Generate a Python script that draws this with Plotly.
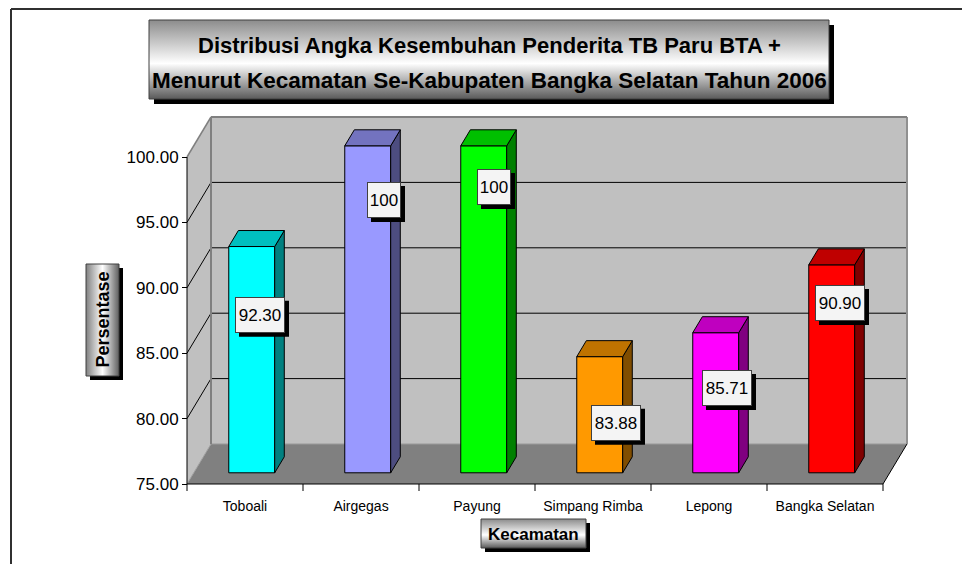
import plotly.graph_objects as go

# ---------------- data ----------------
categories = ["Toboali", "Airgegas", "Payung", "Simpang Rimba", "Lepong", "Bangka Selatan"]
values = [92.30, 100, 100, 83.88, 85.71, 90.90]
label_texts = ["92.30", "100", "100", "83.88", "85.71", "90.90"]
y_ticks = [75, 80, 85, 90, 95, 100]

title_line1 = "Distribusi Angka Kesembuhan Penderita TB Paru BTA +"
title_line2 = "Menurut Kecamatan Se-Kabupaten Bangka Selatan Tahun 2006"
y_title = "Persentase"
x_title = "Kecamatan"

# ---------------- style ----------------
front_colors = ["#00FFFF", "#9999FF", "#00FF00", "#FF9900", "#FF00FF", "#FF0000"]
side_colors = ["#008080", "#4D4D80", "#008000", "#804D00", "#800080", "#800000"]
top_colors = ["#00BFBF", "#7373BF", "#00BF00", "#BF7300", "#BF00BF", "#BF0000"]
label_shift = [(15, -57), (23, -43), (17, -30), (23, -55), (18, -44), (15, -27)]

FONT = "Liberation Sans, Arial, sans-serif"
W, H = 962, 564
PX0, PXC = 187, 116.0      # pixel of x=0, pixels per category
PY0, PYU = 484, 13.08      # pixel of y=75, pixels per value unit
YMIN, YMAX = y_ticks[0], y_ticks[-1]
DX, DY = 24 / PXC, 40 / PYU  # full depth offset in axis units
F0, FD = 0.28, 0.40          # bar front depth fraction, bar depth fraction
HALF = 0.198                 # half bar width (categories)
n = len(categories)

xr = [(0 - PX0) / PXC, (W - PX0) / PXC]
yr = [YMIN - (H - PY0) / PYU, YMIN + PY0 / PYU]

fig = go.Figure()

# ---------------- bars: front faces ----------------
centers = [i + 0.5 for i in range(n)]
fig.add_trace(go.Bar(
    x=[c + F0 * DX for c in centers],
    y=[v - YMIN for v in values],
    base=YMIN + F0 * DY,
    width=2 * HALF,
    marker=dict(color=front_colors, line=dict(color="black", width=1)),
    hoverinfo="skip",
))

# side and top faces
for i, (c, v) in enumerate(zip(centers, values)):
    xl = c + F0 * DX - HALF
    xrr = c + F0 * DX + HALF
    yb = YMIN + F0 * DY
    yt = v + F0 * DY
    ox, oy = FD * DX, FD * DY
    fig.add_trace(go.Scatter(
        x=[xrr, xrr + ox, xrr + ox, xrr, xrr],
        y=[yb, yb + oy, yt + oy, yt, yb],
        mode="lines", fill="toself", fillcolor=side_colors[i],
        line=dict(color="black", width=1), hoverinfo="skip"))
    fig.add_trace(go.Scatter(
        x=[xl, xrr, xrr + ox, xl + ox, xl],
        y=[yt, yt, yt + oy, yt + oy, yt],
        mode="lines", fill="toself", fillcolor=top_colors[i],
        line=dict(color="black", width=1), hoverinfo="skip"))

# ---------------- decorative boxes (pixel overlay axes) ----------------
def box_xy(x0, y0, x1, y1):
    return [x0, x1, x1, x0, x0], [H - y0, H - y0, H - y1, H - y1, H - y0]

def grad_box(x0, y0, x1, y1, kind, cs, shadow=5):
    sx, sy = box_xy(x0 + shadow, y0 + shadow, x1 + shadow, y1 + shadow)
    fig.add_trace(go.Scatter(x=sx, y=sy, mode="lines", fill="toself",
                             fillcolor="black", line=dict(width=0),
                             xaxis="x2", yaxis="y2", hoverinfo="skip"))
    bx, by = box_xy(x0, y0, x1, y1)
    fig.add_trace(go.Scatter(x=bx, y=by, mode="lines", fill="toself",
                             fillcolor="#DDDDDD",
                             fillgradient=dict(type=kind, colorscale=cs),
                             line=dict(color="#404040", width=1),
                             xaxis="x2", yaxis="y2", hoverinfo="skip"))

vert_cs = [[0, "#5A5A5A"], [0.45, "#FFFFFF"], [1, "#8C8C8C"]]
horz_cs = [[0, "#808080"], [0.5, "#FFFFFF"], [1, "#5F5F5F"]]
grad_box(149, 20, 829, 99, "vertical", vert_cs, 5)
grad_box(86, 264, 119, 376, "horizontal", horz_cs, 4)
grad_box(481, 519, 586, 548, "vertical", vert_cs, 4)

# ---------------- walls / floor / grid as shapes ----------------
shapes = []
def poly(pts, fill, lw=0, lc="rgba(0,0,0,0)"):
    path = "M " + " L ".join(f"{x},{y}" for x, y in pts) + " Z"
    shapes.append(dict(type="path", path=path, xref="x", yref="y",
                       fillcolor=fill, line=dict(width=lw, color=lc), layer="below"))

def seg(x0, y0, x1, y1, color, width=1):
    shapes.append(dict(type="line", x0=x0, y0=y0, x1=x1, y1=y1, xref="x", yref="y",
                       line=dict(color=color, width=width), layer="below"))

poly([(DX, YMIN + DY), (n + DX, YMIN + DY), (n + DX, YMAX + DY), (DX, YMAX + DY)], "#C0C0C0")
poly([(0, YMIN), (0, YMAX), (DX, YMAX + DY), (DX, YMIN + DY)], "#C0C0C0")
poly([(0, YMIN), (n, YMIN), (n + DX, YMIN + DY), (DX, YMIN + DY)], "#808080")
for v in y_ticks[1:-1]:
    seg(DX, v + DY, n + DX, v + DY, "black", 1)
    seg(0, v, DX, v + DY, "black", 1)
seg(DX, YMIN + DY, n + DX, YMIN + DY, "#999999", 1)
seg(0, YMIN, DX, YMIN + DY, "#A0A0A0", 1)
seg(DX, YMIN + DY, DX, YMAX + DY, "#808080", 2)
seg(n + DX, YMIN + DY, n + DX, YMAX + DY, "#909090", 2)
seg(DX, YMAX + DY, n + DX, YMAX + DY, "#808080", 2)
seg(0, YMAX, DX, YMAX + DY, "#808080", 1.5)
seg(n, YMIN, n + DX, YMIN + DY, "black", 1)
seg(0, YMIN, 0, YMAX, "black", 1)
seg(0, YMIN, n, YMIN, "black", 1)
for k in range(n + 1):
    shapes.append(dict(type="line", xref="x", yref="y", ysizemode="pixel", yanchor=YMIN,
                       x0=k, x1=k, y0=0, y1=-7, line=dict(color="black", width=1)))

# outer frame
shapes.append(dict(type="line", xref="paper", yref="paper", x0=11 / W, x1=11 / W,
                   y0=0, y1=(H - 9) / H, line=dict(color="#303030", width=2)))
shapes.append(dict(type="line", xref="paper", yref="paper", x0=11 / W, x1=1,
                   y0=(H - 9) / H, y1=(H - 9) / H, line=dict(color="#303030", width=2)))

# ---------------- data labels (box + drop shadow) ----------------
ann = []
for i, (c, v) in enumerate(zip(centers, values)):
    wdt = 46 if len(label_texts[i]) > 3 else 30
    hw, hh = wdt / 2 + 2, 18
    sx, sy = label_shift[i]
    shapes.append(dict(type="rect", xref="x", yref="y",
                       xsizemode="pixel", ysizemode="pixel", xanchor=c, yanchor=v,
                       x0=sx - hw + 4, x1=sx + hw + 4, y0=sy - hh - 4, y1=sy + hh - 4,
                       fillcolor="black", line=dict(width=0), layer="above"))
    ann.append(dict(
        x=c, y=v, xref="x", yref="y", text=label_texts[i], showarrow=False,
        xanchor="center", yanchor="middle", xshift=sx, yshift=sy,
        width=wdt, height=32, borderpad=1, borderwidth=1,
        bordercolor="#404040", bgcolor="#F4F4F4",
        font=dict(family=FONT, size=17, color="black")))

def pann(text, px, py, size, angle=0):
    ann.append(dict(x=px / W, y=(H - py) / H, xref="paper", yref="paper",
                    text=f"<b>{text}</b>", showarrow=False, textangle=angle,
                    xanchor="center", yanchor="middle",
                    font=dict(family=FONT, size=size, color="black")))

pann(title_line1, 489, 46, 22)
pann(title_line2, 489, 81, 22.5)
pann(y_title, 102.5, 320, 18, -90)
pann(x_title, 533.5, 534, 17)

fig.update_layout(
    width=W, height=H, autosize=False,
    margin=dict(l=0, r=0, t=0, b=0),
    paper_bgcolor="white", plot_bgcolor="rgba(0,0,0,0)",
    showlegend=False,
    shapes=shapes, annotations=ann,
    xaxis=dict(range=xr, domain=[0, 1], anchor="free", position=(H - PY0) / H,
               tickmode="array", tickvals=centers, ticktext=categories,
               ticks="", showgrid=False, zeroline=False, showline=False,
               ticklabelstandoff=12,
               tickfont=dict(family=FONT, size=14, color="black"), fixedrange=True),
    yaxis=dict(range=yr, domain=[0, 1], anchor="free", position=PX0 / W,
               tickmode="array", tickvals=y_ticks, tickformat=".2f",
               ticks="outside", ticklen=5, tickcolor="black",
               showgrid=False, zeroline=False, showline=False,
               tickfont=dict(family=FONT, size=17, color="black"), fixedrange=True),
    xaxis2=dict(overlaying="x", range=[0, W], visible=False, fixedrange=True),
    yaxis2=dict(overlaying="y", range=[0, H], visible=False, fixedrange=True, anchor="x2"),
)

fig.write_html("out.html", config={"displayModeBar": False},
               post_script="document.body.style.margin='0px';document.body.style.overflow='hidden';")
